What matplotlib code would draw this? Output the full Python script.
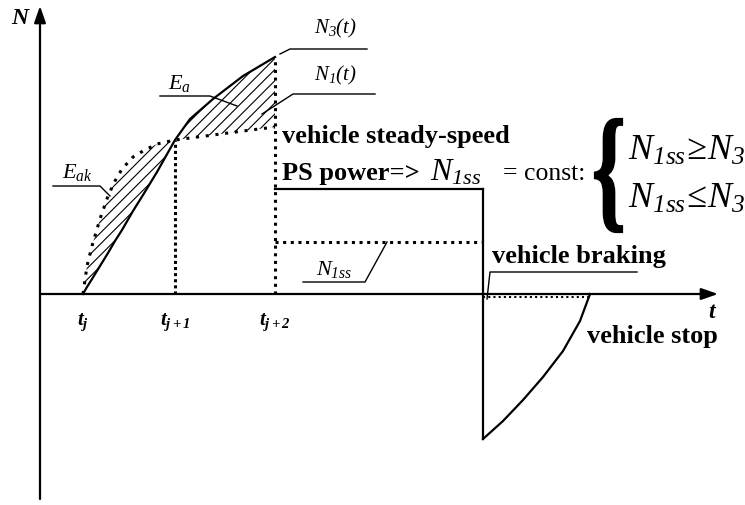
import matplotlib
matplotlib.use("Agg")
import matplotlib.pyplot as plt
from matplotlib.textpath import TextPath
from matplotlib.patches import PathPatch
from matplotlib.font_manager import FontProperties
from matplotlib.transforms import Affine2D
import numpy as np

plt.rcParams['font.family'] = ['Liberation Serif', 'DejaVu Serif']
plt.rcParams['mathtext.fontset'] = 'custom'
plt.rcParams['mathtext.rm'] = 'Liberation Serif:italic'
plt.rcParams['mathtext.it'] = 'Liberation Serif:italic'
plt.rcParams['mathtext.bf'] = 'Liberation Serif:bold'
plt.rcParams['mathtext.bfit'] = 'Liberation Serif:italic:bold'
plt.rcParams['hatch.linewidth'] = 0.8

# time marks t_j, t_{j+1}, t_{j+2}
t_marks = [0.43, 1.35, 2.35]
t_labels = [r'$\mathbfit{t}_{\mathbfit{j}}$', r'$\mathbfit{t}_{\mathbfit{j+1}}$',
            r'$\mathbfit{t}_{\mathbfit{j+2}}$']

# interval [t_j, t_{j+1}]: demanded power N3 and PS power N1
t_a = [0.43, 0.47, 0.52, 0.60, 0.68, 0.75, 0.82, 0.93, 1.03, 1.17, 1.35]
n3_a = [0.00, 0.07, 0.15, 0.28, 0.41, 0.53, 0.64, 0.83, 0.99, 1.22, 1.54]
n1_a = [0.00, 0.28, 0.48, 0.75, 0.98, 1.13, 1.25, 1.37, 1.43, 1.50, 1.54]

# interval [t_{j+1}, t_{j+2}]
t_b = [1.35, 1.50, 1.73, 2.03, 2.35]
n3_b = [1.54, 1.75, 1.95, 2.18, 2.37]
n1_b = [1.54, 1.56, 1.59, 1.63, 1.67]

# steady-speed phase
t_ss = [2.35, 4.43]
n1ss_const = 1.05
n1ss_low = 0.52

# braking phase down to vehicle stop
t_brake = [4.43, 4.63, 4.83, 5.03, 5.23, 5.40, 5.50]
n_brake = [-1.45, -1.27, -1.06, -0.83, -0.57, -0.27, 0.00]

fig = plt.figure(figsize=(7.45, 5.06), dpi=100)
ax = fig.add_axes([0, 0, 1, 1])
ax.set_xlim(-0.40, 7.05)
ax.set_ylim(-2.11, 2.95)
ax.axis('off')

lw = 1.6
# axes with arrows
ax.annotate('', xy=(6.78, 0), xytext=(0, 0),
            arrowprops=dict(arrowstyle='-|>,head_length=1.0,head_width=0.35',
                            color='k', lw=lw, shrinkA=0, shrinkB=0))
ax.annotate('', xy=(0, 2.88), xytext=(0, -2.05),
            arrowprops=dict(arrowstyle='-|>,head_length=1.0,head_width=0.35',
                            color='k', lw=lw, shrinkA=0, shrinkB=0))
ax.text(-0.20, 2.77, 'N', fontsize=17, fontweight='bold', fontstyle='italic',
        ha='center', va='center')
ax.text(6.72, -0.17, 't', fontsize=17, fontweight='bold', fontstyle='italic',
        ha='center', va='center')

# hatched energy areas
ax.fill_between(t_a, n3_a, n1_a, facecolor='none', edgecolor='k', hatch='///', linewidth=0)
ax.fill_between(t_b, n1_b, n3_b, facecolor='none', edgecolor='k', hatch='///', linewidth=0)

# N3(t) solid, N1(t) dotted
ax.plot(t_a + t_b[1:], n3_a + n3_b[1:], color='k', lw=lw)
ax.plot(t_a + t_b[1:], n1_a + n1_b[1:], color='k', lw=2.2, ls=(0, (1, 2.2)))

# vertical marks
ax.plot([t_marks[1], t_marks[1]], [0, n3_a[-1]], color='k', lw=2.2, ls=(0, (1, 1)))
ax.plot([t_marks[2], t_marks[2]], [0, n3_b[-1]], color='k', lw=2.2, ls=(0, (1, 1.5)))

# steady-speed PS power
ax.plot(t_ss, [n1ss_const, n1ss_const], color='k', lw=lw)
ax.plot(t_ss, [n1ss_low, n1ss_low], color='k', lw=2.2, ls=(0, (1, 1.5)))

# braking
ax.plot([t_brake[0], t_brake[0]], [n1ss_const, n_brake[0]], color='k', lw=lw)
ax.plot(t_brake, n_brake, color='k', lw=lw)
ax.plot([t_brake[0], t_brake[-1]], [-0.03, -0.03], color='k', lw=1.5, ls=(0, (1, 1.5)))

# time labels
for tm, lab in zip(t_marks, t_labels):
    ax.text(tm, -0.27, lab, fontsize=15, ha='center', va='center')

# leader lines and labels
lk = dict(color='k', lw=1.0)
ax.plot([2.40, 2.50, 3.27], [2.40, 2.45, 2.45], **lk)
ax.text(2.95, 2.67, r'$N_3(t)$', fontsize=15, ha='center', va='center')
ax.plot([2.22, 2.53, 3.35], [1.80, 2.00, 2.00], **lk)
ax.text(2.95, 2.20, r'$N_1(t)$', fontsize=15, ha='center', va='center')
ax.plot([1.20, 1.70, 1.97], [1.98, 1.98, 1.88], **lk)
ax.text(1.40, 2.12, r'$E_a$', fontsize=16, ha='center', va='center')
ax.plot([0.13, 0.60, 0.70], [1.08, 1.08, 0.98], **lk)
ax.text(0.37, 1.23, r'$E_{ak}$', fontsize=16, ha='center', va='center')
ax.plot([2.63, 3.25, 3.47], [0.12, 0.12, 0.52], **lk)
ax.text(2.94, 0.25, r'$N_{1ss}$', fontsize=16, ha='center', va='center')
ax.plot([5.97, 4.50, 4.47], [0.22, 0.22, -0.05], **lk)

# annotations of the phases
ax.text(2.42, 1.52, 'vehicle steady-speed', fontsize=19, fontweight='bold',
        ha='left', va='baseline')
ax.text(2.42, 1.15, 'PS power=>', fontsize=19, fontweight='bold',
        ha='left', va='baseline')
ax.text(3.90, 1.15, r'$N_{1ss}$', fontsize=23, ha='left', va='baseline')
ax.text(4.63, 1.15, '= const:', fontsize=18.5, ha='left', va='baseline')

# tall narrow curly brace, fitted into a box (x0, x1, y0, y1)
brace = TextPath((0, 0), '{', size=1.0,
                 prop=FontProperties(family='Liberation Serif', weight='bold'))
ext = brace.get_extents()
bx0, bx1, by0, by1 = 5.55, 5.82, 0.62, 1.75
fit = (Affine2D().translate(-ext.x0, -ext.y0)
       .scale((bx1 - bx0) / ext.width, (by1 - by0) / ext.height)
       .translate(bx0, by0))
ax.add_patch(PathPatch(fit.transform_path(brace), facecolor='k', edgecolor='k', lw=1.6))

ax.text(5.88, 1.35, r'$N_{1ss}\!\geq\! N_3$', fontsize=26, ha='left', va='baseline')
ax.text(5.88, 0.87, r'$N_{1ss}\!\leq\! N_3$', fontsize=26, ha='left', va='baseline')
ax.text(4.52, 0.32, 'vehicle braking', fontsize=19, fontweight='bold',
        ha='left', va='baseline')
ax.text(5.47, -0.42, 'vehicle stop', fontsize=19, fontweight='bold',
        ha='left', va='center')

fig.savefig('out.png', dpi=100)
